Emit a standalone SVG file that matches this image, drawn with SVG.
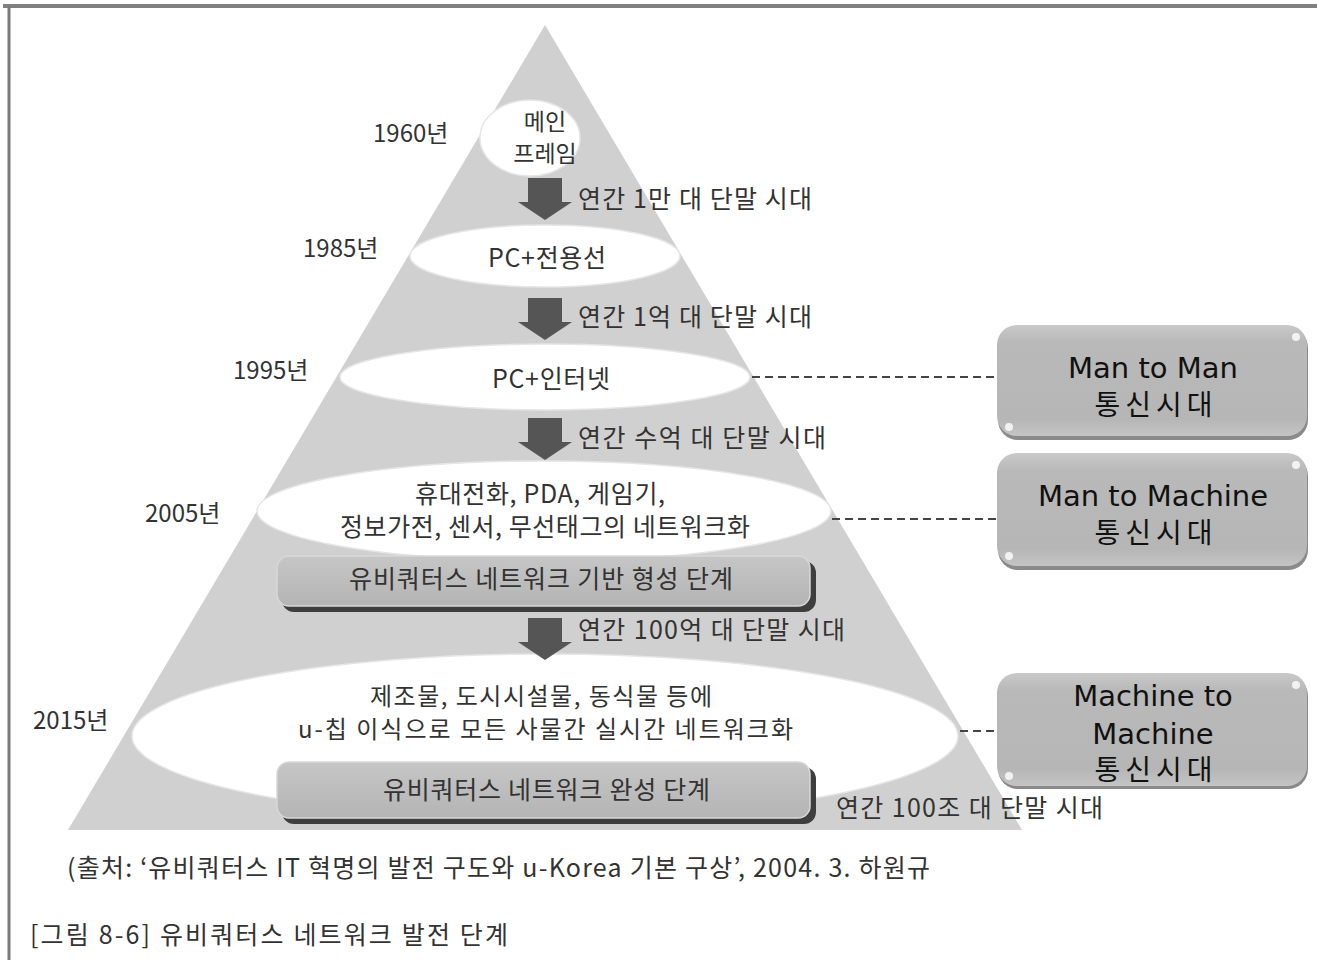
<svg xmlns="http://www.w3.org/2000/svg" width="1317" height="960" viewBox="0 0 1317 960">
<defs>
<style>
.k{font-family:"Noto Sans CJK KR","Noto Sans",sans-serif;fill:#333;}
.yr{font-size:24px;}
.lb{font-size:25px;}
.el{fill:#fff;stroke:#e6e6e6;stroke-width:1.5;}
.arr{fill:#555;}
.bx{font-family:"DejaVu Sans","Noto Sans CJK KR",sans-serif;font-size:29px;fill:#111;text-anchor:middle;}
.ko{font-family:"Noto Sans CJK KR",sans-serif;font-size:28px;fill:#111;text-anchor:middle;letter-spacing:5px;}
.dash{stroke:#444;stroke-width:2;stroke-dasharray:8,5;fill:none;}
.st{font-size:25px;}
.cap{font-size:25px;}
</style>
<linearGradient id="bg" x1="0" y1="0" x2="0" y2="1">
<stop offset="0" stop-color="#c9c9c9"/>
<stop offset="0.15" stop-color="#b9b9b9"/>
<stop offset="0.85" stop-color="#b6b6b6"/>
<stop offset="1" stop-color="#c4c4c4"/>
</linearGradient>
<linearGradient id="sg" x1="0" y1="0" x2="0" y2="1">
<stop offset="0" stop-color="#c6c6c6"/>
<stop offset="1" stop-color="#b4b4b4"/>
</linearGradient>
<symbol id="down" viewBox="0 0 54 42">
<path d="M10 0 H44 V24 H54 L27 42 L0 24 H10 Z"/>
</symbol>
</defs>
<rect width="1317" height="960" fill="#fff"/>
<g id="frame">
<line x1="3" y1="6" x2="1317" y2="6" stroke="#808080" stroke-width="4"/>
<line x1="9" y1="6" x2="9" y2="960" stroke="#7a7a7a" stroke-width="3"/>
</g>
<g id="pyramid">
<polygon points="545,25 1022,830 68,830" fill="#d0d0d0"/>
</g>
<g id="level1960">
<ellipse class="el" cx="530" cy="138" rx="50" ry="38"/>
<text class="k" font-size="23" x="545" y="130" text-anchor="middle">메인</text>
<text class="k" font-size="23" x="545" y="162" text-anchor="middle">프레임</text>
<text class="k yr" x="373" y="142">1960년</text>
</g>
<g id="level1985">
<ellipse class="el" cx="545" cy="256" rx="135" ry="31"/>
<text class="k" font-size="25" x="488" y="267" textLength="118">PC+전용선</text>
<text class="k yr" x="303" y="257">1985년</text>
</g>
<g id="level1995">
<ellipse class="el" cx="545" cy="377" rx="205" ry="33"/>
<text class="k" font-size="25" x="492" y="388" textLength="118">PC+인터넷</text>
<text class="k yr" x="233" y="379">1995년</text>
</g>
<g id="level2005">
<ellipse class="el" cx="544" cy="511" rx="287" ry="50"/>
<text class="k" font-size="25" x="415" y="503" textLength="250">휴대전화, PDA, 게임기,</text>
<text class="k" font-size="25" x="340" y="536" textLength="410">정보가전, 센서, 무선태그의 네트워크화</text>
<text class="k yr" x="145" y="522">2005년</text>
<rect x="282" y="561" width="534" height="51" rx="12" fill="#3e3e3e"/>
<rect x="277" y="556" width="533" height="50" rx="12" fill="url(#sg)" stroke="#d8d8d8" stroke-width="1.5"/>
<text class="k st" x="349" y="588" textLength="384">유비쿼터스 네트워크 기반 형성 단계</text>
</g>
<g id="level2015">
<ellipse class="el" cx="545" cy="736" rx="413" ry="82"/>
<text class="k" font-size="24" x="370" y="705" textLength="342">제조물, 도시시설물, 동식물 등에</text>
<text class="k" font-size="24" x="298" y="738" textLength="495">u-칩 이식으로 모든 사물간 실시간 네트워크화</text>
<text class="k yr" x="33" y="729">2015년</text>
<rect x="282" y="767" width="534" height="57" rx="12" fill="#3e3e3e"/>
<rect x="277" y="762" width="533" height="56" rx="12" fill="url(#sg)" stroke="#d8d8d8" stroke-width="1.5"/>
<text class="k st" x="383" y="799" textLength="327">유비쿼터스 네트워크 완성 단계</text>
<text class="k lb" x="836" y="817" textLength="267">연간 100조 대 단말 시대</text>
</g>
<g id="arrows" class="arr">
<use href="#down" x="518" y="178" width="54" height="42"/>
<use href="#down" x="518" y="298" width="54" height="42"/>
<use href="#down" x="518" y="418" width="54" height="42"/>
<use href="#down" x="518" y="618" width="54" height="42"/>
</g>
<g id="arrowlabels">
<text class="k lb" x="578" y="208" textLength="234">연간 1만 대 단말 시대</text>
<text class="k lb" x="578" y="326" textLength="234">연간 1억 대 단말 시대</text>
<text class="k lb" x="578" y="447" textLength="248">연간 수억 대 단말 시대</text>
<text class="k lb" x="578" y="639" textLength="267">연간 100억 대 단말 시대</text>
</g>
<g id="connectors">
<line class="dash" x1="752" y1="377" x2="997" y2="377"/>
<line class="dash" x1="832" y1="519" x2="997" y2="519"/>
<line class="dash" x1="960" y1="731" x2="997" y2="731"/>
</g>
<g id="mtm">
<rect x="998" y="328" width="310" height="112" rx="20" fill="#8a8a8a"/>
<rect x="997" y="325" width="310" height="111" rx="20" fill="url(#bg)"/>
<circle cx="1296" cy="337" r="4" fill="#fff" opacity="0.8"/>
<circle cx="1009" cy="427" r="4" fill="#fff" opacity="0.8"/>
<text class="bx" x="1153" y="378">Man to Man</text>
<text class="ko" x="1156" y="415">통신시대</text>
</g>
<g id="mtmach">
<rect x="998" y="456" width="310" height="114" rx="20" fill="#8a8a8a"/>
<rect x="997" y="453" width="310" height="113" rx="20" fill="url(#bg)"/>
<circle cx="1296" cy="465" r="4" fill="#fff" opacity="0.8"/>
<circle cx="1009" cy="556" r="4" fill="#fff" opacity="0.8"/>
<text class="bx" x="1153" y="506">Man to Machine</text>
<text class="ko" x="1156" y="543">통신시대</text>
</g>
<g id="m2m">
<rect x="998" y="676" width="310" height="113" rx="20" fill="#8a8a8a"/>
<rect x="997" y="673" width="310" height="113" rx="20" fill="url(#bg)"/>
<circle cx="1296" cy="685" r="4" fill="#fff" opacity="0.8"/>
<circle cx="1009" cy="776" r="4" fill="#fff" opacity="0.8"/>
<text class="bx" x="1153" y="706">Machine to</text>
<text class="bx" x="1153" y="744">Machine</text>
<text class="ko" x="1156" y="780">통신시대</text>
</g>
<g id="captions">
<text class="k cap" x="67" y="877" textLength="863">(출처: ‘유비쿼터스 IT 혁명의 발전 구도와 u-Korea 기본 구상’, 2004. 3. 하원규</text>
<text class="k cap" x="30" y="944" textLength="478">[그림 8-6] 유비쿼터스 네트워크 발전 단계</text>
</g>
</svg>
